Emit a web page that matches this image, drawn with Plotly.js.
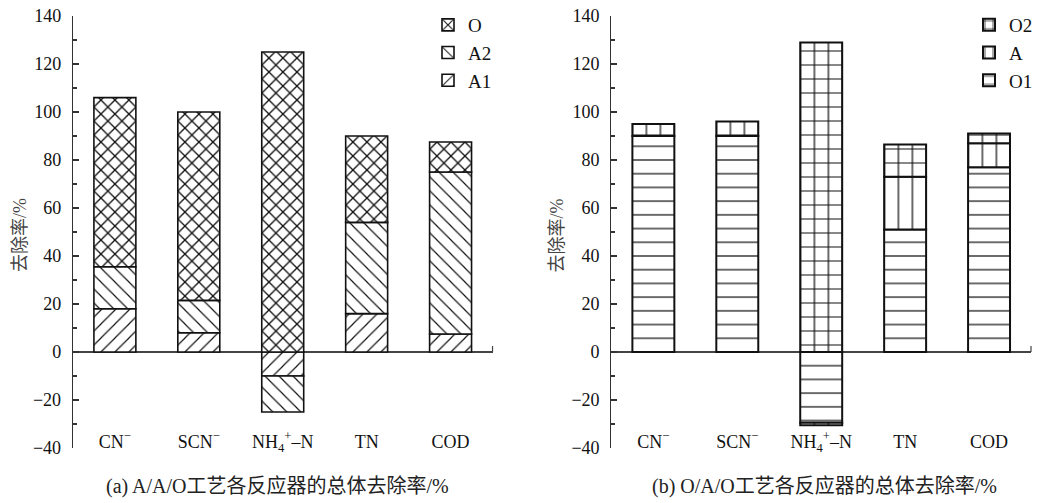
<!DOCTYPE html>
<html>
<head>
<meta charset="utf-8">
<script src="https://cdn.plot.ly/plotly-3.0.1.min.js"></script>
<style>html,body{margin:0;padding:0;background:#fff;}#chart{width:1038px;height:503px;}</style>
</head>
<body>
<div id="chart"></div>
<script>
// ---- data ----
var categories = ['CN-', 'SCN-', 'NH4+-N', 'TN', 'COD'];
var tickLabels = ['CN<sup>−</sup>', 'SCN<sup>−</sup>', 'NH<sub>4</sub><sup>+</sup>–N', 'TN', 'COD'];

// (a) A/A/O process
var aaoA1 = [18, 8, -10, 16, 7.5];
var aaoA2 = [17.5, 13.5, -15, 38, 67.5];
var aaoO  = [70.5, 78.5, 125, 36, 12.5];

// (b) O/A/O process
var oaoO1 = [90, 90, -29.5, 51, 77];
var oaoA  = [0, 0, -1, 22, 10];
var oaoO2 = [5, 6, 129, 13.5, 4];

var yTitle = '去除率/%';
var captionA = '(a) A/A/O工艺各反应器的总体去除率/%';
var captionB = '(b) O/A/O工艺各反应器的总体去除率/%';

// ---- styling ----
var FONT = 'Liberation Serif, Times New Roman, Noto Sans CJK SC, serif';
function bar(name, y, shape, size, solidity, xa, ya, lw, legend) {
  return {
    type: 'bar', name: name, x: categories, y: y, width: 0.5,
    xaxis: xa, yaxis: ya, legend: legend,
    marker: {
      color: 'white',
      line: {color: '#111', width: lw},
      pattern: {shape: shape, size: size, solidity: solidity, fillmode: 'replace',
                fgcolor: '#111', bgcolor: 'white'}
    },
    hoverinfo: 'x+y+name'
  };
}

var traces = [
  bar('A1', aaoA1, '/', 9.9, 0.12, 'x', 'y', 1.6, 'legend'),
  bar('A2', aaoA2, '\\', 9.9, 0.12, 'x', 'y', 1.6, 'legend'),
  bar('O', aaoO, 'x', 9.9, 0.25, 'x', 'y', 1.6, 'legend'),
  bar('O1', oaoO1, '-', 13.714, 0.09, 'x2', 'y2', 2, 'legend2'),
  bar('A', oaoA, '|', 14, 0.09, 'x2', 'y2', 2, 'legend2'),
  bar('O2', oaoO2, '+', 14, 0.17, 'x2', 'y2', 2, 'legend2')
];

var W = 1038, H = 503;
function xAxis(d0, d1) {
  return {
    domain: [d0 / W, d1 / W], anchor: 'free', position: 1 - 429 / H, type: 'category',
    range: [-0.5, 4.5], tickvals: categories, ticktext: tickLabels,
    ticks: '', showline: false, zeroline: false,
    showgrid: false, fixedrange: true,
    tickfont: {family: FONT, size: 18, color: '#111'}
  };
}
function yAxis(anchor) {
  return {
    domain: [55 / H, 487 / H], anchor: anchor, range: [-40, 140], dtick: 20,
    ticks: 'inside', ticklen: 6, tickwidth: 1.2, tickcolor: '#333',
    minor: {dtick: 10, ticks: 'inside', ticklen: 4, tickwidth: 1.2, tickcolor: '#333'},
    showline: true, linecolor: '#333', linewidth: 1.2,
    zeroline: true, zerolinecolor: '#444', zerolinewidth: 1.2,
    showgrid: false, fixedrange: true, ticklabelstandoff: 7,
    tickfont: {family: FONT, size: 18, color: '#111'}
  };
}

var legendBase = {
  y: 1 - 6 / H, xanchor: 'left', yanchor: 'top', traceorder: 'reversed',
  bgcolor: 'rgba(0,0,0,0)', font: {family: FONT, size: 19, color: '#111'},
  tracegroupgap: 0
};

function ann(text, x, y, size, angle, color) {
  return {text: text, xref: 'paper', yref: 'paper', x: x / W, y: 1 - y / H,
          xanchor: 'center', yanchor: 'middle', showarrow: false, textangle: angle,
          font: {family: FONT, size: size, color: color}};
}

var layout = {
  width: W, height: H,
  margin: {l: 0, r: 0, t: 0, b: 0},
  paper_bgcolor: 'white', plot_bgcolor: 'white',
  barmode: 'relative', showlegend: true,
  font: {family: FONT, size: 18, color: '#111'},
  xaxis: xAxis(73, 493),
  yaxis: yAxis('x'),
  xaxis2: xAxis(612, 1032),
  yaxis2: yAxis('x2'),
  legend: Object.assign({}, legendBase, {x: 428 / W}),
  legend2: Object.assign({}, legendBase, {x: 970 / W}),
  shapes: [
    {type: 'line', xref: 'x domain', x0: 1, x1: 1, yref: 'y', ysizemode: 'pixel',
     yanchor: 0, y0: 0, y1: 6, line: {color: '#444', width: 1.2}},
    {type: 'line', xref: 'x2 domain', x0: 1, x1: 1, yref: 'y2', ysizemode: 'pixel',
     yanchor: 0, y0: 0, y1: 6, line: {color: '#444', width: 1.2}}
  ],
  annotations: [
    ann(yTitle, 20, 235, 18, -90, '#444'),
    ann(yTitle, 558, 235, 18, -90, '#444'),
    ann(captionA, 278, 486, 20, 0, '#222'),
    ann(captionB, 825, 486, 20, 0, '#222')
  ]
};

Plotly.newPlot('chart', traces, layout, {displayModeBar: false, staticPlot: true});
</script>
</body>
</html>
